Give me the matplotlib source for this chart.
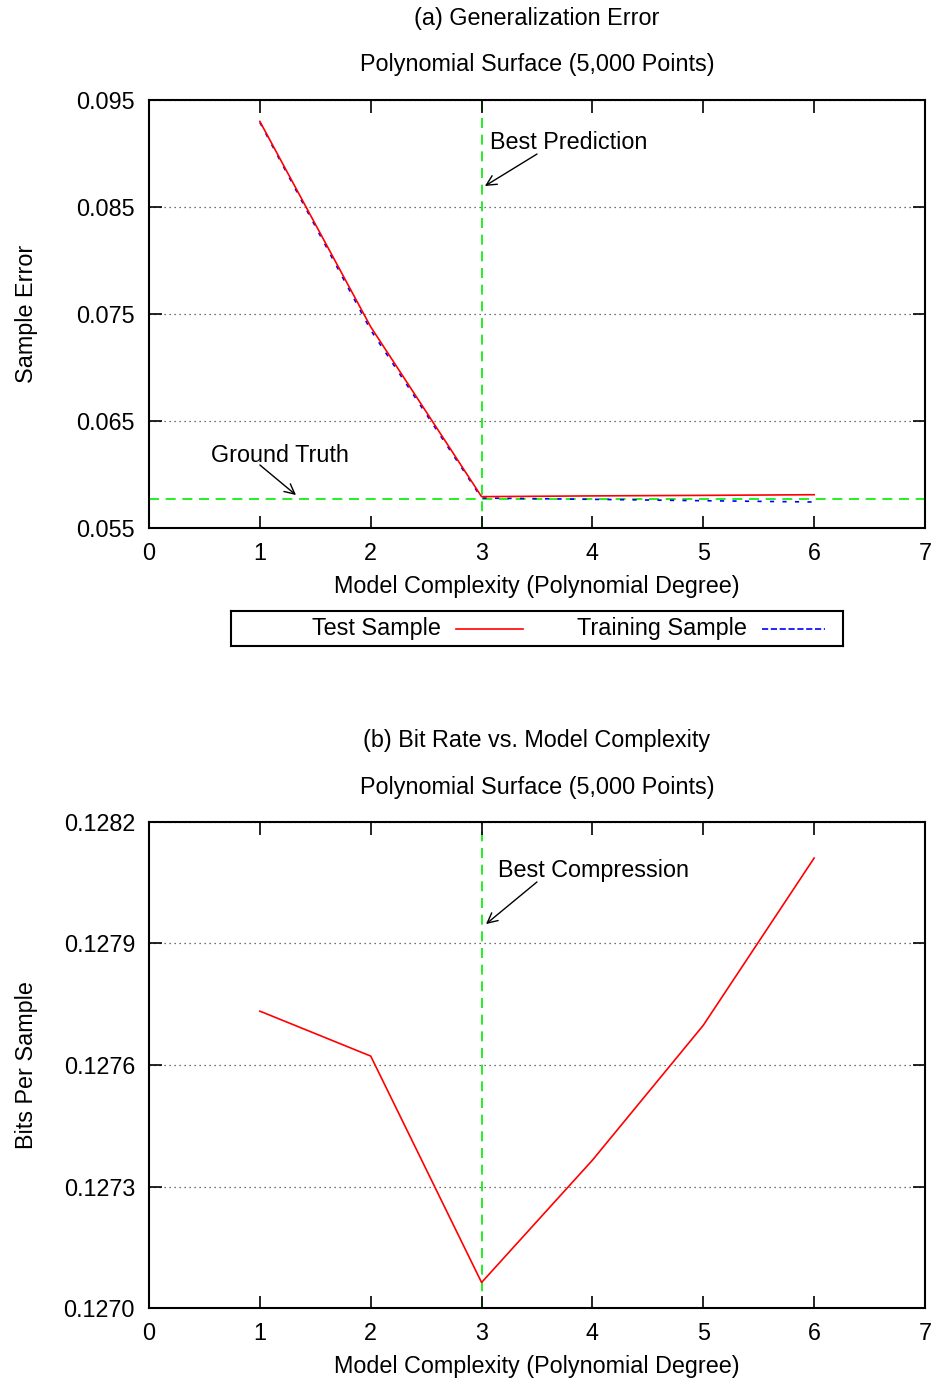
import matplotlib
matplotlib.use("Agg")
import matplotlib.pyplot as plt
from matplotlib.lines import Line2D

FS = 16.8
plt.rcParams['font.family'] = ['Liberation Sans', 'DejaVu Sans']
plt.rcParams['font.size'] = FS

# Polynomial degrees
degrees = [1, 2, 3, 4, 5, 6]

# (a) generalization error
test_error = [0.0930, 0.0738, 0.05793, 0.05800, 0.05805, 0.05811]
train_error = [0.0929, 0.0735, 0.0578, 0.05768, 0.05755, 0.05743]
ground_truth = 0.05771
best_degree = 3

# (b) bits per sample
bits_per_sample = [0.127733, 0.127622, 0.127063, 0.127365, 0.127698, 0.128111]

err_ticks = [0.055, 0.065, 0.075, 0.085, 0.095]
bit_ticks = [0.1270, 0.1273, 0.1276, 0.1279, 0.1282]
x_ticks = [0, 1, 2, 3, 4, 5, 6, 7]

W, H = 935, 1381
fig = plt.figure(figsize=(W / 100, H / 100), dpi=100)


def fx(px):
    return px / W


def fy(py):
    return 1 - py / H


def style_axes(ax, yticks, yfmt):
    ax.set_xlim(0, 7)
    ax.set_ylim(yticks[0], yticks[-1])
    ax.set_xticks(x_ticks)
    ax.set_xticklabels([str(t) for t in x_ticks])
    ax.set_yticks(yticks)
    ax.set_yticklabels([yfmt.format(t) for t in yticks])
    ax.tick_params(direction='in', length=9, width=1.2, top=True, right=True,
                   labelsize=FS, pad=10)
    for s in ax.spines.values():
        s.set_linewidth(1.5)
    for t in yticks:
        ax.axhline(t, color='#444444', linestyle=(0, (1, 3)), linewidth=0.9, zorder=0)


green = '#00ee00'
dash_green = (0, (6, 4))
dot_blue = (0, (2.5, 5))
ylab_x = (38 - 149) / (925 - 149)

# ---- panel (a) ----
ax1 = fig.add_axes([fx(149), fy(528), fx(925 - 149), (528 - 100) / H])
style_axes(ax1, err_ticks, '{:.3f}')
ax1.axvline(best_degree, color=green, linestyle=dash_green, linewidth=1.2, zorder=1)
ax1.axhline(ground_truth, color=green, linestyle=dash_green, linewidth=1.2, zorder=1)
l_test, = ax1.plot(degrees, test_error, color='#ff0000', linewidth=1.2, zorder=3,
                   label='Test Sample')
l_train, = ax1.plot(degrees, train_error, color='#0000ff', linewidth=1.2,
                    linestyle=dot_blue, zorder=2, label='Training Sample')
ax1.set_xlabel('Model Complexity (Polynomial Degree)', fontsize=FS, labelpad=7)
ax1.set_ylabel('Sample Error', fontsize=FS)
ax1.yaxis.set_label_coords(ylab_x, 0.5)
ax1.annotate('', xy=(3.03, 0.08696), xytext=(3.50, 0.08995),
             arrowprops=dict(arrowstyle='->', color='black', lw=1.0,
                             mutation_scale=18, shrinkA=0, shrinkB=0))
ax1.text(3.076, 0.09107, 'Best Prediction', ha='left', va='center', fontsize=FS)
ax1.annotate('', xy=(1.326, 0.05808), xytext=(1.0, 0.06089),
             arrowprops=dict(arrowstyle='->', color='black', lw=1.0,
                             mutation_scale=18, shrinkA=0, shrinkB=0))
ax1.text(1.18, 0.06182, 'Ground Truth', ha='center', va='center', fontsize=FS)

fig.text(fx(537), fy(19), '(a) Generalization Error', ha='center', va='center',
         fontsize=FS)
fig.text(fx(537), fy(65), 'Polynomial Surface (5,000 Points)', ha='center',
         va='center', fontsize=FS)

# legend box below panel (a)
leg_ax = fig.add_axes([fx(231), fy(646), fx(843 - 231), (646 - 611) / H])
leg_ax.set_xlim(231, 843)
leg_ax.set_ylim(646, 611)
leg_ax.set_xticks([])
leg_ax.set_yticks([])
for s in leg_ax.spines.values():
    s.set_linewidth(1.5)
entries = [(l_test, 441, 456, 523), (l_train, 747, 762, 825)]
for line, text_right, x0, x1 in entries:
    leg_ax.text(text_right, 629, line.get_label(), ha='right', va='center',
                fontsize=FS)
    leg_ax.add_line(Line2D([x0, x1], [628.5, 628.5], color=line.get_color(),
                           linestyle=line.get_linestyle(),
                           linewidth=line.get_linewidth()))

# ---- panel (b) ----
ax2 = fig.add_axes([fx(149), fy(1308), fx(925 - 149), (1308 - 822) / H])
style_axes(ax2, bit_ticks, '{:.4f}')
ax2.axvline(best_degree, color=green, linestyle=dash_green, linewidth=1.2, zorder=1)
ax2.plot(degrees, bits_per_sample, color='#ff0000', linewidth=1.2, zorder=3)
ax2.set_xlabel('Model Complexity (Polynomial Degree)', fontsize=FS, labelpad=7)
ax2.set_ylabel('Bits Per Sample', fontsize=FS)
ax2.yaxis.set_label_coords(ylab_x, 0.5)
ax2.annotate('', xy=(3.04, 0.127948), xytext=(3.50, 0.128052),
             arrowprops=dict(arrowstyle='->', color='black', lw=1.0,
                             mutation_scale=18, shrinkA=0, shrinkB=0))
ax2.text(3.148, 0.128081, 'Best Compression', ha='left', va='center', fontsize=FS)

fig.text(fx(537), fy(741), '(b) Bit Rate vs. Model Complexity', ha='center',
         va='center', fontsize=FS)
fig.text(fx(537), fy(787), 'Polynomial Surface (5,000 Points)', ha='center',
         va='center', fontsize=FS)

fig.savefig('out.png', dpi=100)
